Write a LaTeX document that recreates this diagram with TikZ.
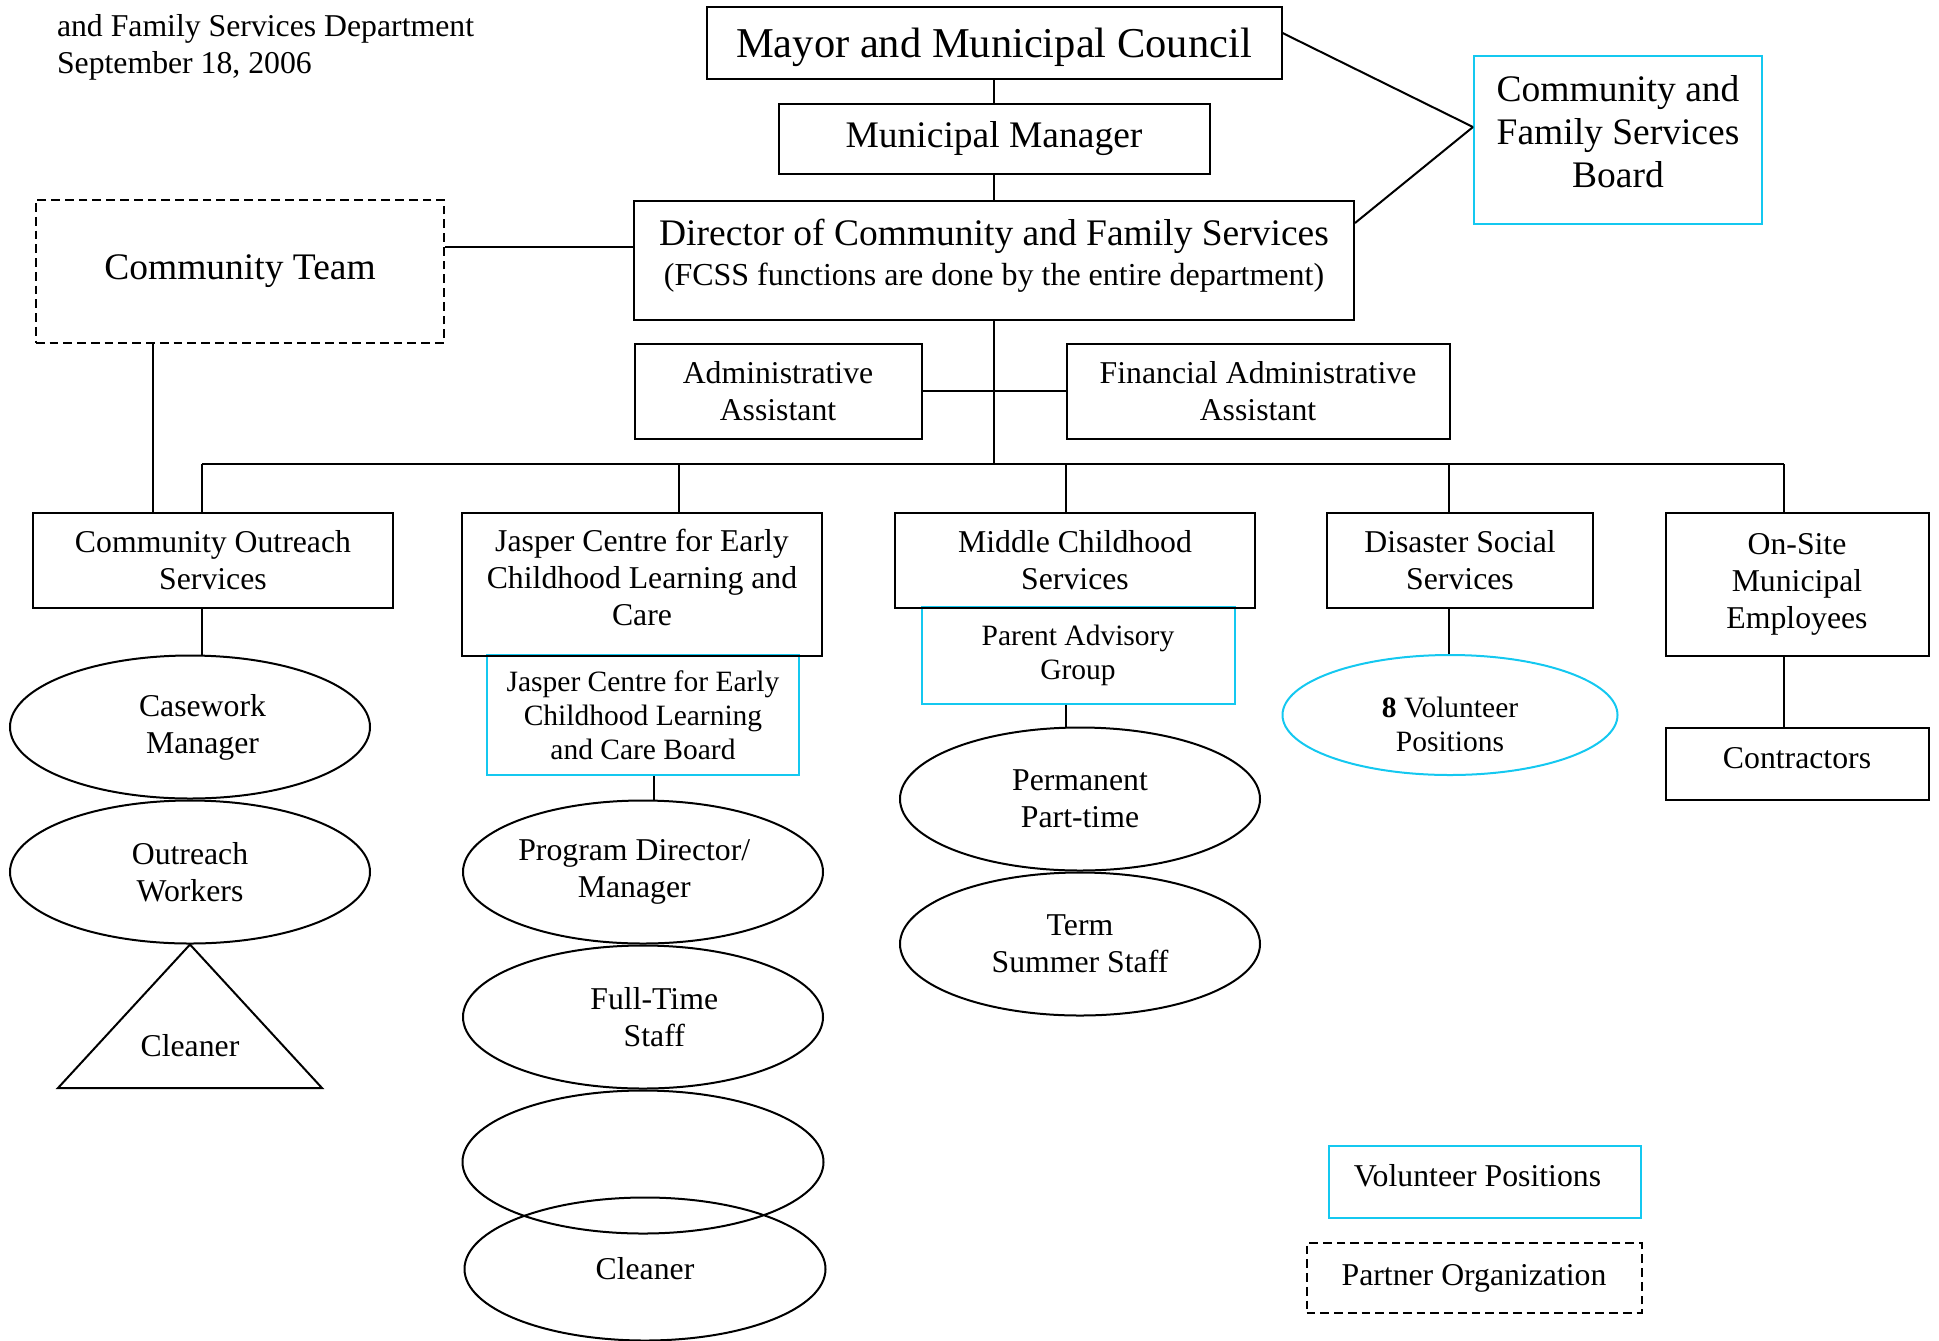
\documentclass[tikz,border=0pt]{standalone}
\usepackage{fontspec}
\setmainfont{Liberation Serif}
\usetikzlibrary{positioning,shapes.geometric}

\definecolor{volcyan}{RGB}{20,200,240}

\begin{document}
\begin{tikzpicture}[x=0.4pt,y=-0.4pt,line width=0.8pt,
                    font=\fontsize{12.7}{14.8}\selectfont]
  \tikzstyle{unit}=[draw=black,rectangle,align=center,inner sep=0pt]
  \tikzstyle{volunteer}=[draw=volcyan,rectangle,align=center,inner sep=0pt,
                         font=\fontsize{11.8}{13.6}\selectfont]
  \tikzstyle{staff}=[draw=black,ellipse,align=center,inner sep=0pt,
                     minimum width=144pt,minimum height=57.2pt]
  \tikzstyle{partner}=[unit,dash pattern=on 3.5pt off 2pt]
  \tikzstyle{large}=[font=\fontsize{15}{17.3}\selectfont]

  \useasboundingbox (0,0) rectangle (1939,1340);

  \node[anchor=north west,align=left,inner sep=0pt] (title) at (56,13)
       {and Family Services Department\\September 18, 2006};

  % volunteer boards first, so the black boxes lie on top
  \node[volunteer,large,text depth=7pt,minimum width=115.2pt,minimum height=67.2pt] (board) at (1618,140)
       {Community and\\Family Services\\Board};
  \node[volunteer,minimum width=124.8pt,minimum height=48pt] (jboard) at (643,715)
       {Jasper Centre for Early\\Childhood Learning\\and Care Board};
  \node[volunteer,minimum width=125.2pt,minimum height=38.8pt] (pag) at (1078,655)
       {Parent Advisory\\Group};
  \node[volunteer,ellipse,text height=29pt,minimum width=134pt,minimum height=48pt] (vol8) at (1450,715)
       {\textbf{8} Volunteer\\Positions};

  \node[unit,text height=15.6pt,minimum width=230pt,minimum height=28.8pt,
        font=\fontsize{17}{20}\selectfont] (mayor) at (994,43) {Mayor and Municipal Council};
  \node[unit,large,minimum width=172.4pt,minimum height=28pt] (manager) at (994,139)
       {Municipal Manager};
  \node[unit,large,text depth=6.3pt,minimum width=288pt,minimum height=47.6pt] (director) at (994,260)
       {Director of Community and Family Services\\[-1.5pt]
        {\fontsize{12.8}{14.8}\selectfont (FCSS functions are done by the entire department)}};
  \node[partner,large,minimum width=163.2pt,minimum height=57.2pt] (team) at (240,271)
       {Community Team};

  \node[unit,minimum width=114.8pt,minimum height=38pt] (admin) at (778,391)
       {Administrative\\Assistant};
  \node[unit,minimum width=153.2pt,minimum height=38pt] (fin) at (1258,391)
       {Financial Administrative\\Assistant};

  \node[unit,minimum width=144pt,minimum height=38pt] (cos) at (213,560)
       {Community Outreach\\Services};
  \node[unit,text depth=5pt,minimum width=144pt,minimum height=57.2pt] (jasper) at (642,584)
       {Jasper Centre for Early\\Childhood Learning and\\Care};
  \node[unit,minimum width=144pt,minimum height=38pt] (middle) at (1075,560)
       {Middle Childhood\\Services};
  \node[unit,minimum width=106.4pt,minimum height=38pt] (disaster) at (1460,560)
       {Disaster Social\\Services};
  \node[unit,minimum width=105.2pt,minimum height=57.2pt] (onsite) at (1797,584)
       {On-Site\\Municipal\\Employees};
  \node[unit,text depth=5pt,minimum width=105.2pt,minimum height=28.8pt] (contractors) at (1797,764)
       {Contractors};

  \node[staff] (casework) at (190,727) {\hspace*{10pt}Casework\\\hspace*{10pt}Manager};
  \node[staff] (outreach) [below=0pt of casework] {Outreach\\Workers};
  \node (cleanerA) at (190,1046) {Cleaner};
  \draw (outreach.south) -- (58,1088) -- (322,1088) -- cycle;

  \node[staff] (progdir) at (643,872) {Program Director/\hspace*{7pt}\\Manager\hspace*{7pt}};
  \node[staff] (fulltime) [below=0pt of progdir] {\hspace*{9pt}Full-Time\\\hspace*{9pt}Staff};
  \node[staff,minimum width=144.4pt] (blank) [below=0pt of fulltime] {};
  \node[staff,minimum width=144.4pt] (cleanerB) at (645,1269) {Cleaner};

  \node[staff] (permanent) at (1080,799) {Permanent\\Part-time};
  \node[staff] (term) [below=0pt of permanent] {Term\\Summer Staff};

  % key
  \node[volunteer,text depth=5pt,font=\fontsize{12.7}{14.8}\selectfont,
        minimum width=124.8pt,minimum height=28.8pt] (keyvol) at (1485,1182)
       {Volunteer Positions\hspace*{6pt}};
  \node[partner,minimum width=134pt,minimum height=28pt] (keypartner) at (1474,1278)
       {Partner Organization};

  % connectors
  \draw (mayor.south) -- (manager.north);
  \draw (manager.south) -- (director.north);
  \draw ([yshift=4pt]mayor.east) -- ([yshift=5.2pt]board.west);
  \draw ([yshift=14.8pt]director.east) -- ([yshift=5.2pt]board.west);
  \draw ([yshift=9.6pt]team.east) -- ([yshift=9.6pt]team.east -| director.west);
  \draw ([xshift=-34.8pt]team.south) -- ([xshift=-34.8pt]team.south |- cos.north);

  \coordinate (bus) at (994,464);
  \draw (director.south) -- (bus);
  \draw (admin.east) -- (fin.west);
  \foreach \x/\n in {202/cos,679/jasper,1066/middle,1449/disaster,1784/onsite}
    \coordinate (drop\n) at (\x,464);
  \draw (dropcos) -- (droponsite);
  \foreach \n in {cos,jasper,middle,disaster,onsite}
    \draw (drop\n) -- (drop\n |- \n.north);

  \draw (dropcos |- cos.south) -- (dropcos |- casework.north);
  \draw ([xshift=4.4pt]jboard.south) -- ([xshift=4.4pt]jboard.south |- progdir.north);
  \draw (dropmiddle |- pag.south) -- (dropmiddle |- permanent.north);
  \draw (dropdisaster |- disaster.south) -- (dropdisaster |- vol8.north);
  \draw (droponsite |- onsite.south) -- (droponsite |- contractors.north);
\end{tikzpicture}
\end{document}
